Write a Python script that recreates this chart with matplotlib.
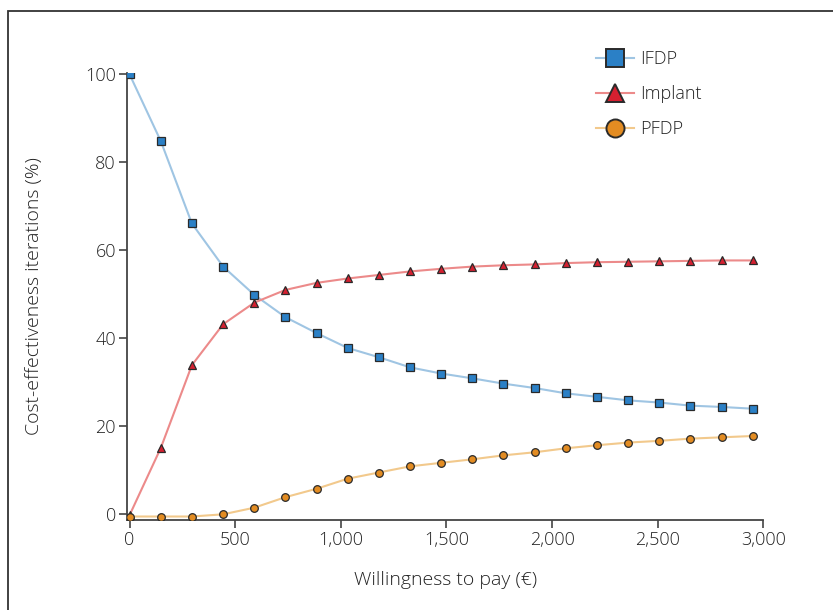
import matplotlib
matplotlib.use("Agg")
import matplotlib.pyplot as plt
from matplotlib.patches import Rectangle
from matplotlib.ticker import FuncFormatter

plt.rcParams['font.family'] = ['Open Sans', 'DejaVu Sans']
plt.rcParams['font.weight'] = 'light'
plt.rcParams['axes.labelweight'] = 'light'

# Willingness-to-pay grid (€)
wtp = [0, 148, 295, 443, 590, 738, 885, 1033, 1180, 1328, 1475,
       1623, 1770, 1918, 2065, 2213, 2360, 2508, 2655, 2803, 2950]

# Share of cost-effective iterations (%)
ifdp = [100.0, 84.8, 66.1, 56.3, 49.9, 44.8, 41.2, 37.8, 35.7, 33.4, 32.0,
        30.9, 29.7, 28.7, 27.5, 26.7, 25.9, 25.4, 24.7, 24.4, 24.0]
implant = [-0.2, 15.1, 33.9, 43.2, 48.1, 51.0, 52.6, 53.6, 54.4, 55.2, 55.8,
           56.3, 56.6, 56.8, 57.1, 57.3, 57.4, 57.5, 57.6, 57.7, 57.7]
pfdp = [-0.5, -0.5, -0.5, 0.0, 1.5, 3.9, 5.8, 8.1, 9.5, 10.9, 11.7,
        12.5, 13.4, 14.1, 15.0, 15.7, 16.3, 16.7, 17.2, 17.5, 17.8]

y_ticks = [0, 20, 40, 60, 80, 100]
x_ticks = [0, 500, 1000, 1500, 2000, 2500, 3000]

fig = plt.figure(figsize=(8.33, 6.10), dpi=100)
ax = fig.add_axes([0.1525, 0.1475, 0.7638, 0.7328])

# outer frame around the figure panel
fig.patches.append(Rectangle((7.5 / 833, -0.1), 1.2, 1.1 - 10.5 / 610,
                             transform=fig.transFigure, fill=False,
                             edgecolor='#333333', linewidth=1.3))

series = [
    ("IFDP", ifdp, 's', '#9fc5e3', '#2b80c6', 6.0),
    ("Implant", implant, '^', '#ec8a8a', '#d52030', 6.0),
    ("PFDP", pfdp, 'o', '#f2c98c', '#e38c22', 5.5),
]
edge = '#2a2a2a'
for name, vals, mk, lc, fc, ms in series:
    ax.plot(wtp, vals, color=lc, linewidth=1.5, marker=mk, markersize=ms,
            markerfacecolor=fc, markeredgecolor=edge, markeredgewidth=0.9,
            label=name, zorder=3)

ax.set_xlim(-12, 3000)
ax.set_ylim(-1.3, 100.3)
ax.set_xticks(x_ticks)
ax.set_yticks(y_ticks)
ax.xaxis.set_major_formatter(FuncFormatter(lambda v, p: f"{int(v):,}"))

for s in ['top', 'right']:
    ax.spines[s].set_visible(False)
for s in ['left', 'bottom']:
    ax.spines[s].set_color('#444444')
    ax.spines[s].set_linewidth(1.3)
ax.tick_params(direction='out', length=6, width=1.2, color='#444444',
               labelsize=13, labelcolor='#222222', pad=2)

ax.set_xlabel("Willingness to pay (€)", fontsize=14, color='#222222',
              fontweight='light', labelpad=16)
ax.set_ylabel("Cost-effectiveness iterations (%)", fontsize=14, color='#222222',
              fontweight='light', labelpad=30)

leg_handles = []
for name, vals, mk, lc, fc, ms in series:
    h, = ax.plot([], [], color=lc, linewidth=1.5, marker=mk, markersize=13,
                 markerfacecolor=fc, markeredgecolor=edge, markeredgewidth=1.4)
    leg_handles.append(h)
ax.legend(leg_handles, [s[0] for s in series], loc='upper left',
          bbox_to_anchor=(0.712, 1.0875), frameon=False, fontsize=13,
          labelspacing=0.95, handlelength=2.1, handletextpad=0.35,
          labelcolor='#222222')

fig.savefig("out.png", dpi=100, facecolor='white')
